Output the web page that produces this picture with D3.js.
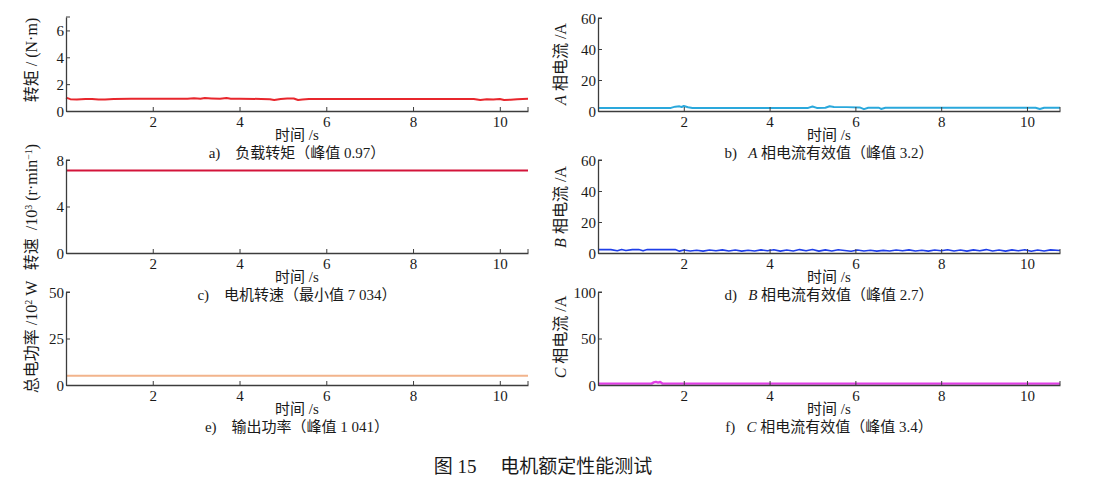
<!DOCTYPE html>
<html><head><meta charset="utf-8">
<script src="https://cdn.jsdelivr.net/npm/d3@7"></script>
<style>
body{margin:0;background:#fff;}
svg text{font-family:"Liberation Serif","Times New Roman","Noto Sans CJK SC",serif;fill:#1a1a1a;white-space:pre;}
</style></head><body>
<svg id="c" width="1093" height="494" font-family="Liberation Serif, Noto Sans CJK SC, serif"></svg>
<script>
// ---------- data ----------
const xTicks = [2, 4, 6, 8, 10];

// a) load torque (N·m)
const tTorque = [0,0.1,0.25,0.45,0.6,0.75,0.9,1.1,1.5,2.0,2.5,2.8,2.95,3.1,3.2,3.35,3.55,3.7,3.8,4.0,4.5,4.7,4.8,4.95,5.1,5.25,5.35,5.45,5.6,6,7,8,9,9.4,9.55,9.7,9.85,10.0,10.1,10.25,10.4,10.65];
const vTorque = [1.0,0.88,0.85,0.9,0.9,0.86,0.85,0.9,0.91,0.91,0.91,0.92,0.95,0.92,0.96,0.94,0.92,0.96,0.92,0.91,0.9,0.88,0.82,0.9,0.93,0.93,0.82,0.85,0.9,0.9,0.9,0.9,0.9,0.9,0.82,0.88,0.85,0.9,0.82,0.84,0.88,0.92];
const torqueTicks = [0, 2, 4, 6];

// b) phase A current RMS (A)
const tA = [0,0.5,1.0,1.5,1.7,1.8,1.9,1.95,2.0,2.1,2.2,3,4,4.9,5.0,5.1,5.3,5.4,5.5,5.8,6.1,6.2,6.3,6.55,6.6,6.7,7,8,9,10.2,10.3,10.4,10.77];
const vA = [2.0,2.0,2.0,2.0,2.0,2.8,3.0,2.6,3.2,2.4,2.0,2.0,2.0,2.0,2.9,2.0,2.1,3.1,2.6,2.5,2.3,1.2,2.1,2.1,1.3,2.1,2.1,2.1,2.1,2.1,1.3,2.1,2.1];
const currentTicks = [0, 20, 40, 60];

// c) motor speed (10^3 r/min)
const tSpeed = [0,1,2,3,4,5,6,7,8,9,10,10.65];
const vSpeed = [7.10,7.10,7.09,7.10,7.10,7.09,7.10,7.10,7.09,7.10,7.10,7.10];
const speedTicks = [0, 4, 8];

// d) phase B current RMS (A)
const tB = [0,0.3,0.45,0.55,0.65,0.8,0.95,1.05,1.15,1.3,1.6,1.8,1.9,2.0,2.15,2.3,2.45,2.6,2.75,2.9,3.05,3.2,3.35,3.5,3.65,3.8,3.95,4.1,4.25,4.4,4.55,4.7,4.85,5.0,5.15,5.3,5.45,5.6,5.75,5.9,6.05,6.2,6.35,6.5,6.65,6.8,6.95,7.1,7.25,7.4,7.55,7.7,7.85,8.0,8.15,8.3,8.45,8.6,8.75,8.9,9.05,9.2,9.35,9.5,9.65,9.8,9.95,10.1,10.25,10.4,10.55,10.77];
const vB = [2.2,2.2,1.5,2.3,1.6,2.2,2.2,1.4,2.2,2.2,2.2,2.2,1.2,1.9,1.3,1.8,1.2,1.9,1.4,2.0,1.3,1.9,1.2,1.8,1.3,2.0,1.4,2.1,1.2,1.9,1.3,2.2,1.4,2.3,1.2,2.0,1.3,2.1,1.6,1.1,1.9,1.3,1.8,1.2,1.7,1.3,1.9,1.4,2.0,1.3,1.8,1.2,1.9,1.4,2.1,1.3,1.9,1.2,2.0,1.4,2.2,1.3,1.9,1.2,2.0,1.4,2.1,1.1,1.9,1.3,2.0,1.6];

// e) total electric power (10^2 W)
const tPower = [0,1,2,3,4,5,6,7,8,9,10,10.65];
const vPower = [5.0,5.0,4.95,5.0,5.0,4.95,5.0,5.0,5.0,4.95,5.0,5.0];
const powerTicks = [0, 25, 50];

// f) phase C current RMS (A)
const tC = [0,0.5,1.0,1.25,1.3,1.35,1.4,1.45,1.5,2,4,6,8,10,10.77];
const vC = [1.5,1.5,1.5,1.5,2.8,3.4,2.6,3.2,1.6,1.5,1.5,1.5,1.5,1.5,1.5];
const currentCTicks = [0, 50, 100];

// ---------- drawing ----------
const svg = d3.select("#c");
const AX = "#3c3c3c";

function addParts(textSel, parts){
  parts.forEach(p => {
    const s = textSel.append("tspan").text(p[0]);
    if (p[1] === "i") s.attr("font-style", "italic");
    if (p[1] === "sup") s.attr("baseline-shift", "super").attr("font-size", 10);
  });
}

function panel(o){
  const x = d3.scaleLinear().domain([0, o.xMax]).range([o.x0, o.x1]);
  const y = d3.scaleLinear().domain([0, o.yMax]).range([o.y1, o.y0]);
  const g = svg.append("g");

  const line = d3.line().x(d => x(d[0])).y(d => y(d[1]));
  g.append("path").datum(d3.zip(o.t, o.v))
    .attr("d", line).attr("fill", "none")
    .attr("stroke", o.color).attr("stroke-width", o.lw || 2)
    .attr("stroke-linejoin", "round");

  const xa = g.append("g").attr("transform", `translate(0,${o.y1})`)
    .call(d3.axisTop(x).tickValues(xTicks).tickSize(4).tickSizeOuter(0).tickFormat(d3.format("d")));
  xa.attr("font-family", null).attr("font-size", null);
  xa.select(".domain").attr("stroke", AX).attr("stroke-width", 1.3);
  xa.selectAll(".tick line").attr("stroke", AX);
  xa.selectAll(".tick text").attr("y", 16).attr("dy", 0)
    .attr("font-size", 15).attr("fill", "#1a1a1a");
  g.append("line").attr("x1", o.x1).attr("x2", o.x1)
    .attr("y1", o.y1 - 4).attr("y2", o.y1).attr("stroke", AX);

  const ya = g.append("g").attr("transform", `translate(${o.x0},0)`)
    .call(d3.axisRight(y).tickValues(o.yTicks).tickSize(4).tickSizeOuter(0).tickFormat(d3.format("d")));
  ya.attr("font-family", null).attr("font-size", null);
  ya.select(".domain").attr("stroke", AX).attr("stroke-width", 1.3);
  ya.selectAll(".tick line").attr("stroke", AX);
  ya.selectAll(".tick text").attr("x", -2).attr("text-anchor", "end")
    .attr("dy", "0.35em").attr("font-size", 15).attr("fill", "#1a1a1a");
  g.append("line").attr("x1", o.x0).attr("x2", o.x0 + 4)
    .attr("y1", o.y0).attr("y2", o.y0).attr("stroke", AX);

  const cx = (o.x0 + o.x1) / 2;
  g.append("text").attr("x", cx).attr("y", o.y1 + 29)
    .attr("text-anchor", "middle").attr("font-size", 15).text("时间 /s");
  const cap = g.append("text").attr("x", cx).attr("y", o.y1 + 47)
    .attr("text-anchor", "middle").attr("font-size", 15);
  addParts(cap, o.caption);

  const yt = g.append("text")
    .attr("transform", `translate(${o.ytx},${o.yty}) rotate(-90)`)
    .attr("text-anchor", "middle").attr("font-size", 16);
  addParts(yt, o.ytitle);
}

const L = {x0: 66, x1: 528, xMax: 10.65};
const R = {x0: 598, x1: 1060, xMax: 10.77};

panel({...L, y0: 17, y1: 111, yMax: 7, yTicks: torqueTicks, t: tTorque, v: vTorque,
  color: "#e8262c", ytitle: [["转矩 / (N·m)"]], ytx: 37, yty: 60,
  caption: [["a)    负载转矩（峰值 0.97）"]]});
panel({...R, y0: 18, y1: 111, yMax: 60, yTicks: currentTicks, t: tA, v: vA,
  color: "#2aa8dc", ytitle: [["A", "i"], [" 相电流 /A"]], ytx: 566, yty: 64,
  caption: [["b)   "], ["A", "i"], [" 相电流有效值（峰值 3.2）"]]});
panel({...L, y0: 160, y1: 253, yMax: 8, yTicks: speedTicks, t: tSpeed, v: vSpeed,
  color: "#d3143a", ytitle: [["转速  /10"], ["3", "sup"], [" (r·min"], ["−1", "sup"], [")"]], ytx: 37, yty: 207,
  caption: [["c)    电机转速（最小值 7 034）"]]});
panel({...R, y0: 160, y1: 253, yMax: 60, yTicks: currentTicks, t: tB, v: vB,
  color: "#1e3ee8", lw: 1.6, ytitle: [["B", "i"], [" 相电流 /A"]], ytx: 566, yty: 207,
  caption: [["d)   "], ["B", "i"], [" 相电流有效值（峰值 2.7）"]]});
panel({...L, y0: 292, y1: 385, yMax: 50, yTicks: powerTicks, t: tPower, v: vPower,
  color: "#f2b48c", ytitle: [["总电功率 /10"], ["2", "sup"], [" W"]], ytx: 37, yty: 337,
  caption: [["e)    输出功率（峰值 1 041）"]]});
panel({...R, y0: 292, y1: 385, yMax: 100, yTicks: currentCTicks, t: tC, v: vC,
  color: "#e23ee6", lw: 2.4, ytitle: [["C", "i"], [" 相电流 /A"]], ytx: 566, yty: 337,
  caption: [["f)   "], ["C", "i"], [" 相电流有效值（峰值 3.4）"]]});

svg.append("text").attr("x", 543).attr("y", 473).attr("text-anchor", "middle")
  .attr("font-size", 19).text("图 15     电机额定性能测试");
</script></body></html>
